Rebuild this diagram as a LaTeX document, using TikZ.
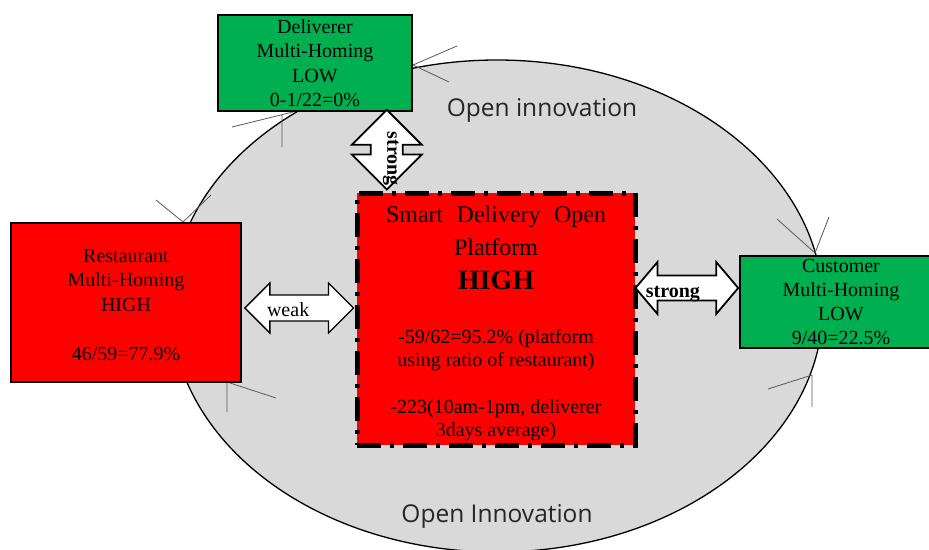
\documentclass[tikz,border=0pt]{standalone}
\usepackage{fontspec}
\setmainfont{Liberation Serif}
\newfontfamily\labelsans{Open Sans}
\usetikzlibrary{calc}

\definecolor{platred}{HTML}{FF0000}
\definecolor{lowgreen}{HTML}{00B050}
\definecolor{fieldgray}{HTML}{D9D9D9}

% horizontal double block arrow: #1 style, #2 left tip, #3 right tip,
% #4 shaft half-width, #5 head half-width, #6 head length (all in pt)
\newcommand\hblockarrow[6]{%
  \draw[#1] let \p1=(#2), \p2=(#3) in
    (\x1,\y1) -- (\x1+#6pt,\y1+#5pt) -- (\x1+#6pt,\y1+#4pt)
    -- (\x2-#6pt,\y1+#4pt) -- (\x2-#6pt,\y1+#5pt) -- (\x2,\y1)
    -- (\x2-#6pt,\y1-#5pt) -- (\x2-#6pt,\y1-#4pt)
    -- (\x1+#6pt,\y1-#4pt) -- (\x1+#6pt,\y1-#5pt) -- cycle;}
% vertical double block arrow: #2 top tip, #3 bottom tip
\newcommand\vblockarrow[6]{%
  \draw[#1] let \p1=(#2), \p2=(#3) in
    (\x1,\y1) -- (\x1+#5pt,\y1-#6pt) -- (\x1+#4pt,\y1-#6pt)
    -- (\x1+#4pt,\y2+#6pt) -- (\x1+#5pt,\y2+#6pt) -- (\x1,\y2)
    -- (\x1-#5pt,\y2+#6pt) -- (\x1-#4pt,\y2+#6pt)
    -- (\x1-#4pt,\y1-#6pt) -- (\x1-#5pt,\y1-#6pt) -- cycle;}

\begin{document}
\begin{tikzpicture}[x=1pt,y=-1pt,
  field/.style={fill=fieldgray, draw=black, line width=1.3pt},
  handle/.style={draw=black!65, line width=0.8pt},
  sidebox/.style={rectangle, draw=black, line width=1.6pt, inner sep=0pt,
    align=center, font=\fontsize{20}{24.5}\selectfont},
  lowbox/.style={sidebox, fill=lowgreen},
  highbox/.style={sidebox, fill=platred},
  platbox/.style={rectangle, fill=platred, draw=black, line width=5pt,
    dash pattern=on 24pt off 9pt on 4pt off 9pt, inner sep=0pt},
  plattext/.style={align=center, inner sep=0pt, font=\fontsize{20}{23}\selectfont},
  blockarrow/.style={draw=black, fill=white, line width=1.8pt, line join=miter},
  arrowtext/.style={font=\fontsize{20}{20}\selectfont},
  fieldlabel/.style={font=\labelsans\fontsize{24.5}{24.5}\selectfont, text=black!85}]

\useasboundingbox (0,0) rectangle (929,549);

% open-innovation field
\path[field] (497,306) ellipse [x radius=326pt, y radius=246pt];

% curve handles left on the field outline
\draw[handle] (413,65) -- (457,46) (413,65) -- (449,82);
\draw[handle] (232,127) -- (297,111) (282,115) -- (282,147);
\draw[handle] (183,222) -- (156,200) (183,222) -- (211,195);
\draw[handle] (227,382) -- (227,412) (227,382) -- (276,398);
\draw[handle] (815,253) -- (777,219) (815,253) -- (829,217);
\draw[handle] (812,375) -- (768,389) (812,375) -- (812,407);

% actors
\node[lowbox, minimum width=194pt, minimum height=96pt] (deliv) at (315,63)
  {Deliverer\\Multi-Homing\\LOW\\0-1/22=0\%};
\node[highbox, minimum width=230pt, minimum height=159pt] (rest) at (126,302.5)
  {\rule{0pt}{18pt}Restaurant\\Multi-Homing\\HIGH\\[24.5pt]46/59=77.9\%};
\node[lowbox, minimum width=202pt, minimum height=92pt,
      font=\fontsize{20}{24}\selectfont] (cust) at (841,302)
  {Customer\\Multi-Homing\\LOW\\9/40=22.5\%};
\node[platbox, minimum width=278pt, minimum height=252pt] (plat) at (496,319) {};
\node[plattext] (platinfo) at ($(plat.center)+(0,4)$)
  {{\fontsize{24}{24}\selectfont\makebox[220pt][s]{Smart Delivery Open}}\\[10pt]
   {\fontsize{24}{24}\selectfont Platform}\\[11pt]
   {\fontsize{28}{28}\selectfont\bfseries HIGH}\\[31pt]
   -59/62=95.2\% (platform\\
   using ratio of restaurant)\\[24pt]
   -223(10am-1pm, deliverer\\
   3days average)};

% arrow end points
\coordinate (wl) at ($(rest.east)+(3,5.5)$);
\coordinate (wr) at ($(plat.west |- rest.east)+(-1,5.5)$);
\coordinate (sl) at ($(plat.east |- cust.west)+(-2,-14)$);
\coordinate (sr) at ($(cust.west)+(-1,-14)$);
\coordinate (vt) at ($(deliv.south east)+(-26,-2)$);
\coordinate (vb) at ($(plat.north west)+(29,-1)$);

% links
\hblockarrow{blockarrow, line width=1.4pt}{wl}{wr}{13}{25}{25}
\hblockarrow{blockarrow}{sl}{sr}{12.5}{26}{22}
\vblockarrow{blockarrow}{vt}{vb}{16}{35}{35}

\node[arrowtext] (weaklbl) at ($(wl)!0.5!(wr)+(-11,2)$) {weak};
\node[arrowtext, anchor=base] (stronglbl) at ($(sl)!0.5!(sr)+(-14,9)$) {\bfseries strong};
\node[arrowtext, rotate=-90] (vstronglbl) at ($(vt)+(4,49)$) {\bfseries strong};

% field captions
\node[fieldlabel, anchor=base] (oitop) at (542,116) {Open innovation};
\node[fieldlabel, anchor=base] (oibot) at (497,522) {Open Innovation};
\end{tikzpicture}
\end{document}
